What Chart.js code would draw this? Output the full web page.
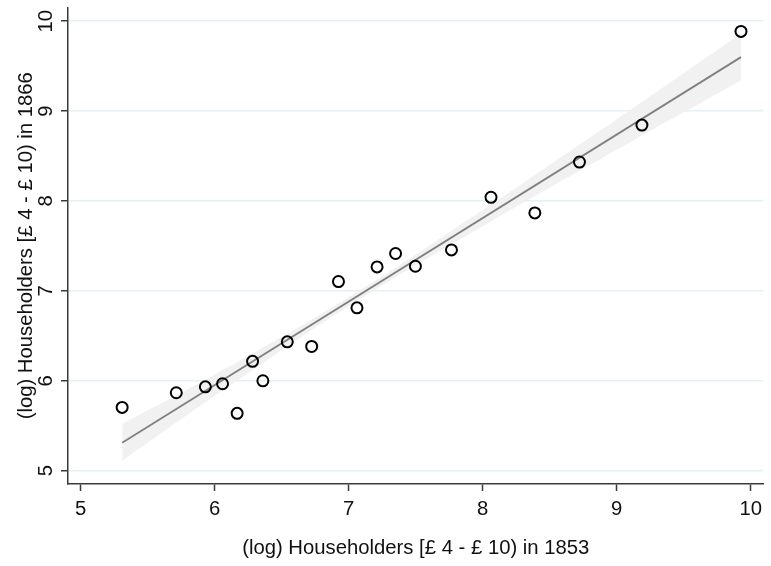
<!DOCTYPE html>
<html>
<head>
<meta charset="utf-8">
<script src="https://cdn.jsdelivr.net/npm/chart.js@4"></script>
<style>
  body { margin: 0; background: #fff; }
  #wrap { width: 771px; height: 566px; }
</style>
</head>
<body>
<div id="wrap"><canvas id="scatterChart" width="771" height="566"></canvas></div>
<script>
// observed values (log householders)
var x1853 = [5.31, 5.714, 5.931, 6.059, 6.168, 6.283, 6.36, 6.542, 6.724, 6.924,
             7.062, 7.212, 7.35, 7.498, 7.767, 8.062, 8.389, 8.722, 9.188, 9.927];
var y1866 = [5.704, 5.867, 5.933, 5.967, 5.638, 6.216, 6.0, 6.433, 6.382, 7.104,
             6.811, 7.267, 7.416, 7.274, 7.456, 8.041, 7.867, 8.433, 8.844, 9.886];

// fitted line and confidence band
var fitX = [5.31, 9.927];
var fitY = [5.311, 9.6];
var bandX = [5.31, 6, 7, 8, 9, 9.927];
var bandLow = [5.11, 5.83, 6.83, 7.72, 8.57, 9.34];
var bandHigh = [5.52, 6.07, 6.93, 7.9, 8.91, 9.86];

var tickVals = [5, 6, 7, 8, 9, 10];
var xTitle = '(log) Householders [£ 4 - £ 10) in 1853';
var yTitle = '(log) Householders [£ 4 - £ 10) in 1866';

function pts(xs, ys) {
  return xs.map(function(x, i) { return { x: x, y: ys[i] }; });
}

var font = { family: '"Liberation Sans", Arial, sans-serif', size: 20.3 };
var axisColor = '#3a3a3a';

new Chart(document.getElementById('scatterChart'), {
  type: 'scatter',
  data: {
    datasets: [{
      data: pts(x1853, y1866),
      pointRadius: 5.5,
      pointBorderWidth: 2,
      pointBorderColor: '#000',
      pointBackgroundColor: 'rgba(0,0,0,0)'
    }, {
      data: pts(fitX, fitY),
      showLine: true,
      borderColor: '#808080',
      borderWidth: 1.8,
      pointRadius: 0
    }, {
      data: pts(bandX, bandHigh),
      showLine: true,
      borderWidth: 0,
      borderColor: 'rgba(0,0,0,0)',
      pointRadius: 0,
      tension: 0.4,
      fill: 3,
      backgroundColor: '#f1f1f1'
    }, {
      data: pts(bandX, bandLow),
      showLine: true,
      borderWidth: 0,
      borderColor: 'rgba(0,0,0,0)',
      pointRadius: 0,
      tension: 0.4
    }]
  },
  options: {
    responsive: false,
    animation: false,
    layout: { padding: { top: 7, right: 1, left: 0, bottom: 0 } },
    plugins: { legend: { display: false }, tooltip: { enabled: false } },
    scales: {
      x: {
        min: 4.906,
        max: 10.095,
        afterBuildTicks: function(s) { s.ticks = tickVals.map(function(v) { return { value: v }; }); },
        afterFit: function(s) { s.height = 82; s.paddingLeft = 0; s.paddingRight = 0; },
        border: { color: axisColor, width: 1.5 },
        grid: { drawOnChartArea: false, drawTicks: true, tickLength: 7, tickColor: axisColor, tickWidth: 1.5 },
        ticks: { color: '#111', font: font, padding: 6, maxRotation: 0 },
        title: { display: true, text: xTitle, color: '#111', font: font, padding: { top: 0, bottom: 5 } }
      },
      y: {
        min: 4.852,
        max: 10.152,
        afterBuildTicks: function(s) { s.ticks = tickVals.map(function(v) { return { value: v }; }); },
        afterFit: function(s) { s.width = 68; s.paddingTop = 0; s.paddingBottom = 0; },
        border: { color: axisColor, width: 1.5 },
        grid: { color: '#e6eff1', lineWidth: 1.5, drawTicks: true, tickLength: 7, tickColor: axisColor, tickWidth: 1.5 },
        ticks: { color: '#111', font: font, padding: 3, minRotation: 90, maxRotation: 90, crossAlign: 'center' },
        title: { display: true, text: yTitle, color: '#111', font: font, padding: { top: 14, bottom: 0 } }
      }
    }
  }
});
</script>
</body>
</html>
